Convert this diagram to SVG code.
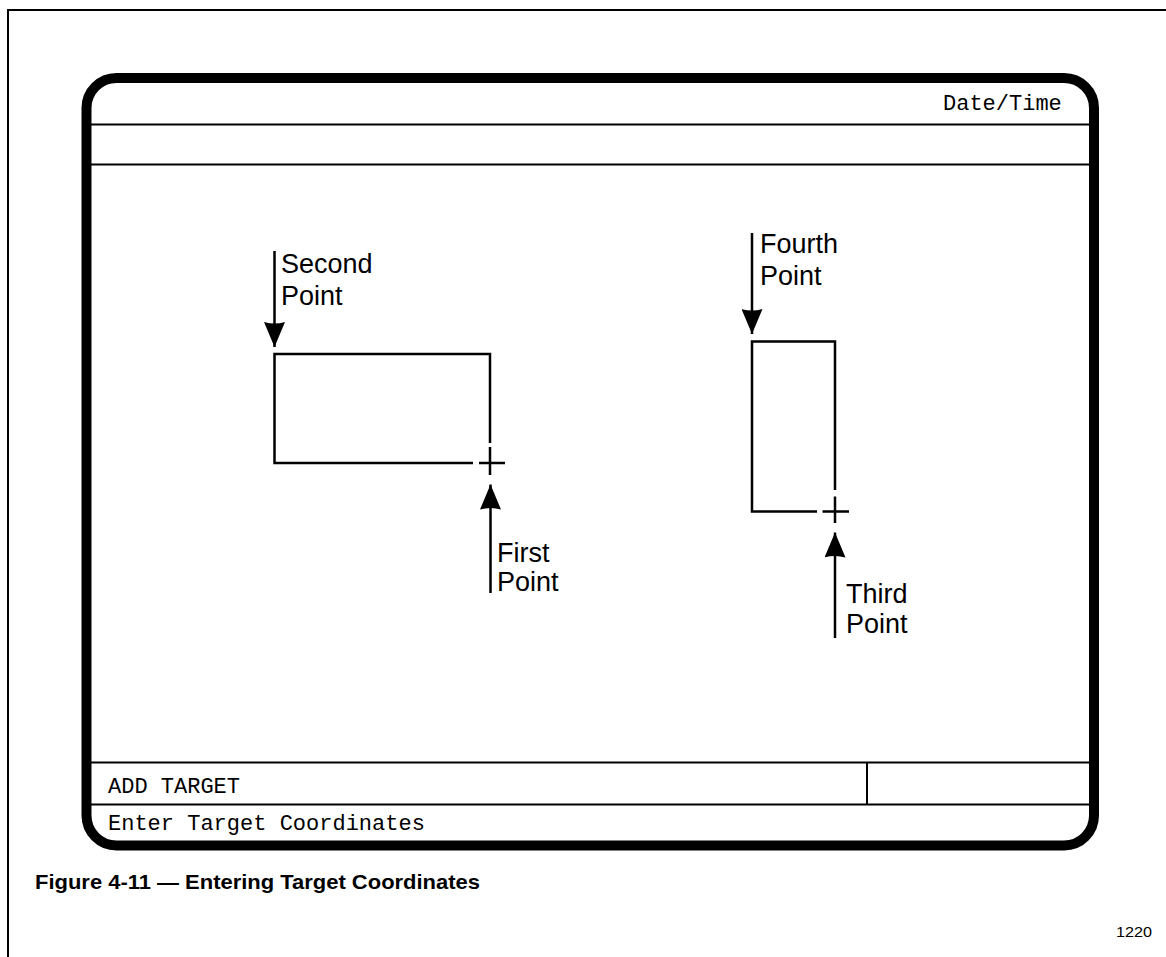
<svg xmlns="http://www.w3.org/2000/svg" width="1166" height="957" viewBox="0 0 1166 957">
<style>
.mono{font-family:"Liberation Mono","Courier New",monospace;font-size:22px;fill:#000}
.lbl{font-family:"Liberation Sans",Arial,sans-serif;font-size:27px;fill:#000}
.thin{stroke:#000;stroke-width:2;fill:none}
.shape{stroke:#000;stroke-width:2.5;fill:none}
.arr{stroke:#000;stroke-width:2.5;fill:none;marker-end:url(#ah)}
</style>
<defs>
<marker id="ah" markerUnits="userSpaceOnUse" viewBox="0 0 25 21" refX="25" refY="10.5" markerWidth="25" markerHeight="21" orient="auto">
<path d="M0,0 Q3,10.5 0,21 L25,10.5 Z" fill="#000"/>
</marker>
</defs>
<rect width="1166" height="957" fill="#fff"/>
<g id="page-frame">
<path d="M8,957 V10 H1166" class="thin"/>
</g>
<g id="screen">
<rect x="86.5" y="78" width="1007.5" height="767.5" rx="30" ry="30" fill="none" stroke="#000" stroke-width="10"/>
<path d="M91,124.5 H1089 M91,164.5 H1089 M91,762.5 H1089 M91,804.5 H1089 M867,762.5 V804.5" class="thin"/>
<text x="943" y="110" class="mono">Date/Time</text>
<text x="108" y="793" class="mono">ADD TARGET</text>
<text x="108" y="830" class="mono">Enter Target Coordinates</text>
</g>
<g id="target1">
<path d="M490,443 V354 H274.5 V463 H473" class="shape"/>
<path d="M479,463 H505 M490,447 V475" class="shape"/>
</g>
<g id="target2">
<path d="M835,490 V341.5 H752 V511.5 H817" class="shape"/>
<path d="M822.5,511.5 H849 M835,496.5 V523" class="shape"/>
</g>
<g id="label-second">
<text x="281" y="273" class="lbl">Second</text>
<text x="281" y="305" class="lbl">Point</text>
</g>
<g id="label-first">
<text x="497" y="562" class="lbl">First</text>
<text x="497" y="591" class="lbl">Point</text>
</g>
<g id="label-fourth">
<text x="760" y="253" class="lbl">Fourth</text>
<text x="760" y="285" class="lbl">Point</text>
</g>
<g id="label-third">
<text x="846" y="603" class="lbl">Third</text>
<text x="846" y="633" class="lbl">Point</text>
</g>
<g id="connectors">
<path d="M274.5,251 V347" class="arr"/>
<path d="M490.5,593 V484.5" class="arr"/>
<path d="M752,233 V334" class="arr"/>
<path d="M835,638 V532.5" class="arr"/>
</g>
<g id="caption">
<text x="35" y="889" font-family="'Liberation Sans',Arial,sans-serif" font-weight="bold" font-size="21" textLength="445" lengthAdjust="spacingAndGlyphs">Figure 4-11 — Entering Target Coordinates</text>
<text x="1116" y="937" font-family="'Liberation Sans',Arial,sans-serif" font-size="15" textLength="36" lengthAdjust="spacingAndGlyphs">1220</text>
</g>
</svg>
